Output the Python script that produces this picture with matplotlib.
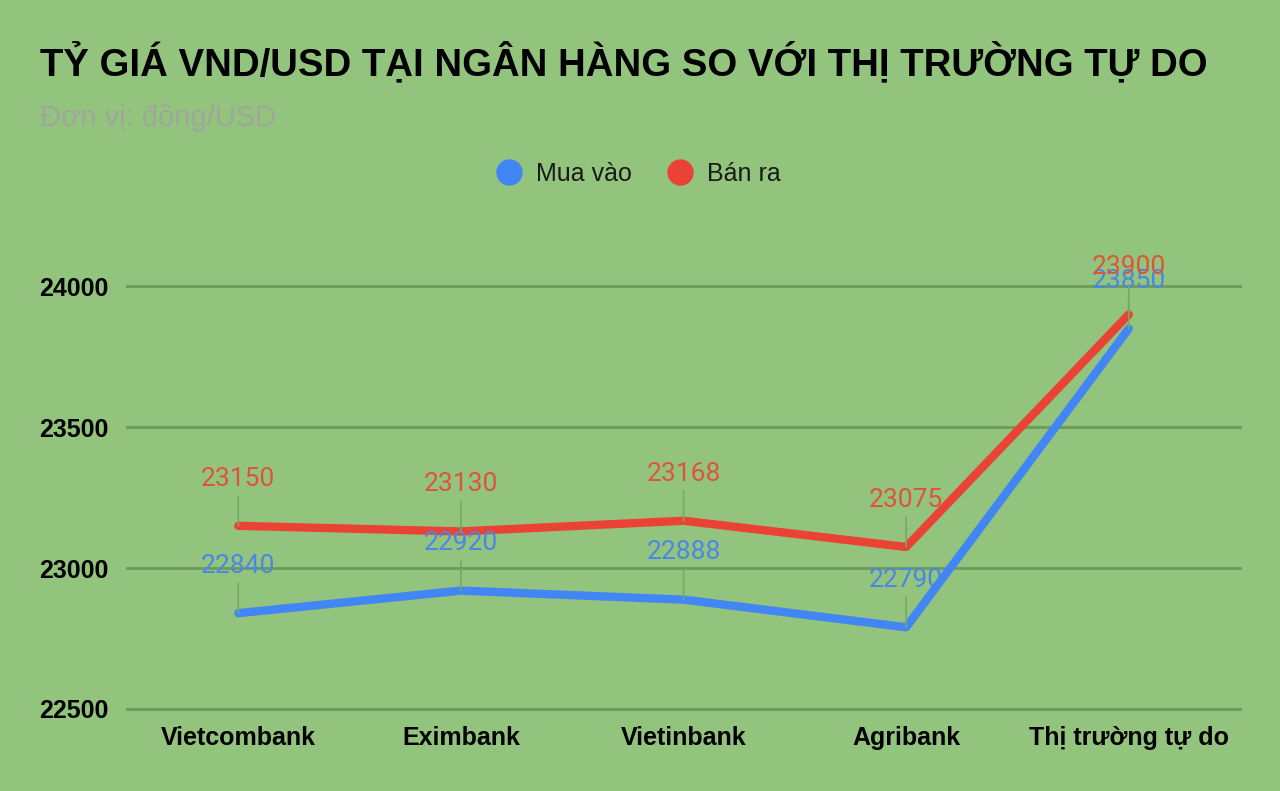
import matplotlib
matplotlib.use("Agg")
import matplotlib.pyplot as plt

categories = ["Vietcombank", "Eximbank", "Vietinbank", "Agribank", "Thị trường tự do"]
mua_vao = [22840, 22920, 22888, 22790, 23850]
ban_ra = [23150, 23130, 23168, 23075, 23900]
y_ticks = [22500, 23000, 23500, 24000]

BG = "#93c47d"
BLUE = "#4285f4"
RED = "#ea4335"
GRID = "#6b9b5b"

plt.rcParams["font.family"] = ["Liberation Sans", "DejaVu Sans"]

fig = plt.figure(figsize=(12.8, 7.91), dpi=100, facecolor=BG)
ax = fig.add_axes([0.0992, 0.1037, 0.8696, 0.643])
ax.set_facecolor(BG)

x = list(range(len(categories)))

ax.plot(x, mua_vao, color=BLUE, linewidth=6, solid_capstyle="round",
        solid_joinstyle="round", zorder=3, label="Mua vào")
ax.plot(x, ban_ra, color=RED, linewidth=6, solid_capstyle="round",
        solid_joinstyle="round", zorder=3, label="Bán ra")

# nhãn số liệu kèm đường dẫn
for series, col in [(mua_vao, "#4a86e8"), (ban_ra, "#e0533b")]:
    for xi, v in zip(x, series):
        ax.annotate(str(v), xy=(xi, v), xytext=(0, 34), textcoords="offset points",
                    ha="center", va="center", color=col, fontsize=19,
                    family=["Roboto", "DejaVu Sans"], zorder=4,
                    arrowprops=dict(arrowstyle="-", color="#76a862", lw=1.2,
                                    shrinkA=2, shrinkB=0, relpos=(0.5, 0)))

ax.set_xlim(-0.5, 4.5)
ax.set_ylim(22500, 24305)
ax.set_yticks(y_ticks)
ax.set_yticklabels([str(t) for t in y_ticks], fontsize=18, fontweight="bold")
ax.set_xticks(x)
ax.set_xticklabels(categories, fontsize=18, fontweight="bold")
ax.tick_params(axis="both", length=0, colors="black")
ax.tick_params(axis="y", pad=13.5)
ax.tick_params(axis="x", pad=12.5)
ax.grid(axis="y", color=GRID, linewidth=2)
for gl in ax.get_ygridlines():
    gl.set_clip_on(False)
ax.set_axisbelow(True)
for s in ax.spines.values():
    s.set_visible(False)

fig.text(0.031, 0.921, "TỶ GIÁ VND/USD TẠI NGÂN HÀNG SO VỚI THỊ TRƯỜNG TỰ DO",
         fontsize=27.6, fontweight="bold", color="black", va="center", ha="left")
fig.text(0.031, 0.852, "Đơn vị: đồng/USD", fontsize=21, color="#9fa69c",
         va="center", ha="left")

leg = fig.legend(loc="center", bbox_to_anchor=(0.5, 0.78), ncol=2, frameon=False,
                 fontsize=18, handlelength=0.8, handletextpad=0.7, columnspacing=1.5)
for h, c in zip(leg.legend_handles, [BLUE, RED]):
    h.set_linestyle("none")
    h.set_marker("o")
    h.set_markersize(18)
    h.set_markerfacecolor(c)
    h.set_markeredgecolor(c)
for t in leg.get_texts():
    t.set_color("#1a1a1a")

fig.savefig("out.png", dpi=100, facecolor=BG)
